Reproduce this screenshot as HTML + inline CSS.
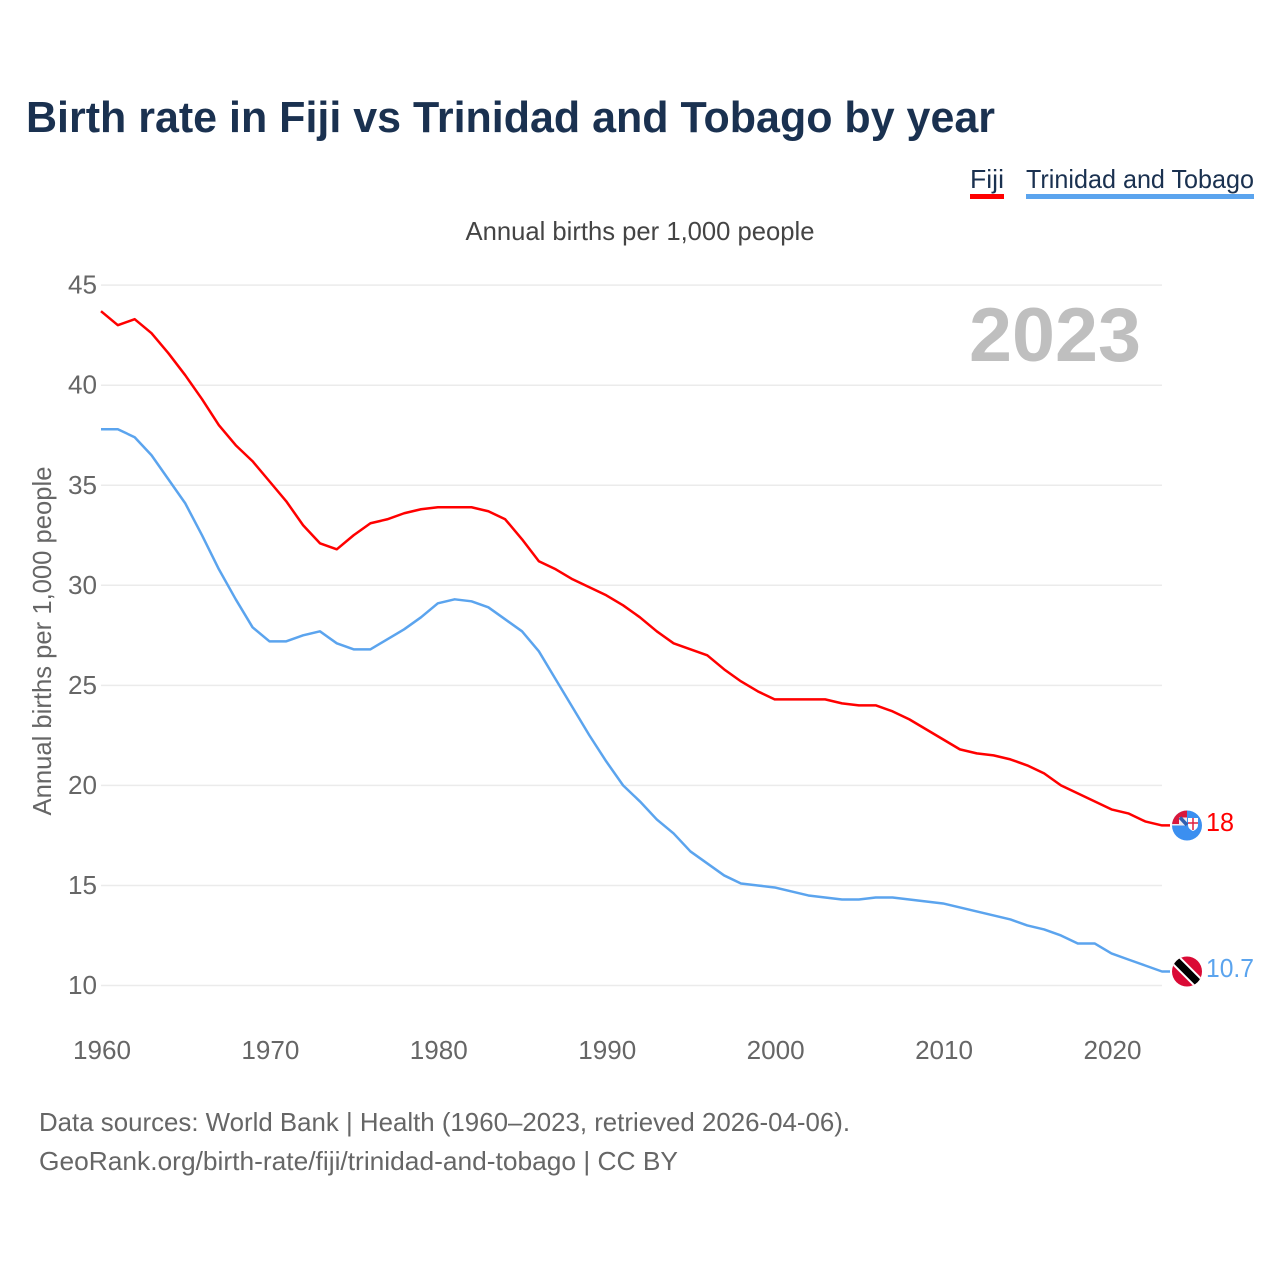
<!DOCTYPE html>
<html lang="en">
<head>
<meta charset="utf-8">
<title>Birth rate in Fiji vs Trinidad and Tobago by year</title>
<style>
html,body{margin:0;padding:0;background:#fff;width:1280px;height:1280px;overflow:hidden}
svg{display:block;font-family:"Liberation Sans",sans-serif}
</style>
</head>
<body>
<svg id="chart" xmlns="http://www.w3.org/2000/svg" width="1280" height="1280" viewBox="0 0 1280 1280">
  <defs>
    <clipPath id="fiji-clip"><circle cx="1187" cy="825.500" r="15"/></clipPath>
    <clipPath id="tt-clip"><circle cx="1187" cy="971.500" r="15"/></clipPath>
  </defs>
  <text x="26" y="132" font-size="44" font-weight="700" fill="#1a3150" textLength="969" lengthAdjust="spacingAndGlyphs">Birth rate in Fiji vs Trinidad and Tobago by year</text>

  <g>
    <text x="970" y="188" font-size="26" fill="#1a3150" textLength="34" lengthAdjust="spacingAndGlyphs">Fiji</text>
    <rect x="970" y="194" width="34" height="5" fill="#ff0000"/>
  </g>
  <g>
    <text x="1026" y="188" font-size="26" fill="#1a3150" textLength="228" lengthAdjust="spacingAndGlyphs">Trinidad and Tobago</text>
    <rect x="1026" y="194" width="228" height="5" fill="#5ba4ee"/>
  </g>

  <text x="640" y="240" font-size="26" fill="#444" text-anchor="middle" textLength="349" lengthAdjust="spacingAndGlyphs">Annual births per 1,000 people</text>
  <text transform="translate(51,641) rotate(-90)" font-size="26" fill="#666" text-anchor="middle" textLength="349" lengthAdjust="spacingAndGlyphs">Annual births per 1,000 people</text>
  <text x="1141" y="361" font-size="76" font-weight="700" fill="#bfbfbf" text-anchor="end" textLength="172" lengthAdjust="spacingAndGlyphs">2023</text>

  <g id="grid"></g>
  <g id="y-ticks"></g>
  <g id="x-ticks"></g>
  <g id="lines"></g>

  <g clip-path="url(#fiji-clip)">
    <rect x="1172" y="810" width="30" height="32" fill="#3b8ff0"/>
    <rect x="1172" y="810" width="15" height="15.500" fill="#eceaf0"/>
    <path d="M1172 824V813Q1172 810 1176 810H1187V817.500H1179V824Z" fill="#d8173c"/>
    <path d="M1180 817.500L1187 825" stroke="#2f5fb0" stroke-width="3.500"/>
    <path d="M1188 818H1198V825Q1198 829 1193 831Q1188 829 1188 825Z" fill="#fff"/>
    <path d="M1193 818V830M1188 823H1198" stroke="#e0203f" stroke-width="1.500"/>
  </g>
  <text x="1206" y="831" font-size="26" fill="#ff0000" textLength="28" lengthAdjust="spacingAndGlyphs">18</text>

  <g clip-path="url(#tt-clip)">
    <rect x="1172" y="956" width="30" height="31" fill="#da0a35"/>
    <path d="M1172 956.500L1202 986.500" stroke="#fff" stroke-width="11.500"/>
    <path d="M1172 956.500L1202 986.500" stroke="#000" stroke-width="7.500"/>
  </g>
  <text x="1206" y="977" font-size="26" fill="#5ba4ee" textLength="48" lengthAdjust="spacingAndGlyphs">10.7</text>

  <text x="39" y="1131" font-size="26" fill="#666" textLength="811" lengthAdjust="spacingAndGlyphs">Data sources: World Bank | Health (1960–2023, retrieved 2026-04-06).</text>
  <text x="39" y="1170" font-size="26" fill="#666" textLength="639" lengthAdjust="spacingAndGlyphs">GeoRank.org/birth-rate/fiji/trinidad-and-tobago | CC BY</text>
</svg>
<script>
var startYear = 1960;
var fijiValues = [
  43.7,43.0,43.3,42.6,41.6,40.5,39.3,38.0,37.0,36.2,
  35.2,34.2,33.0,32.1,31.8,32.5,33.1,33.3,33.6,33.8,
  33.9,33.9,33.9,33.7,33.3,32.3,31.2,30.8,30.3,29.9,
  29.5,29.0,28.4,27.7,27.1,26.8,26.5,25.8,25.2,24.7,
  24.3,24.3,24.3,24.3,24.1,24.0,24.0,23.7,23.3,22.8,
  22.3,21.8,21.6,21.5,21.3,21.0,20.6,20.0,19.6,19.2,
  18.8,18.6,18.2,18.0
];
var trinidadValues = [
  37.8,37.8,37.4,36.5,35.3,34.1,32.5,30.8,29.3,27.9,
  27.2,27.2,27.5,27.7,27.1,26.8,26.8,27.3,27.8,28.4,
  29.1,29.3,29.2,28.9,28.3,27.7,26.7,25.3,23.9,22.5,
  21.2,20.0,19.2,18.3,17.6,16.7,16.1,15.5,15.1,15.0,
  14.9,14.7,14.5,14.4,14.3,14.3,14.4,14.4,14.3,14.2,
  14.1,13.9,13.7,13.5,13.3,13.0,12.8,12.5,12.1,12.1,
  11.6,11.3,11.0,10.7
];
var yTickLabels = [10,15,20,25,30,35,40,45];
var xTickLabels = [1960,1970,1980,1990,2000,2010,2020];

var NS = 'http://www.w3.org/2000/svg';
var connectorEndX = 1170;
function xScale(year){ return 101 + (year - 1960) * (1162 - 101) / 63; }
function yScale(value){ return 985.5 - (value - 10) * 20.01; }
function make(tag, attrs, parent){
  var el = document.createElementNS(NS, tag);
  for (var k in attrs) el.setAttribute(k, attrs[k]);
  parent.appendChild(el);
  return el;
}
var grid = document.getElementById('grid');
var yTicks = document.getElementById('y-ticks');
var xTicks = document.getElementById('x-ticks');
var lines = document.getElementById('lines');

yTickLabels.forEach(function(v){
  var g = make('line', {x1:101, x2:1162, y1:yScale(v), y2:yScale(v), stroke:'#ebebeb', 'stroke-width':1.5}, grid);
  
  
  var t = make('text', {x:97, y:yScale(v)+8.500, 'font-size':26, fill:'#666', 'text-anchor':'end', textLength:29, lengthAdjust:'spacingAndGlyphs'}, yTicks);
  t.textContent = v;
  
  
});
xTickLabels.forEach(function(y){
  var t = make('text', {x:xScale(y)+1, y:1059, 'font-size':26, fill:'#666', 'text-anchor':'middle', textLength:58, lengthAdjust:'spacingAndGlyphs'}, xTicks);
  t.textContent = y;
  
  
});
function points(values){
  var pts = values.map(function(v,i){ return xScale(startYear+i).toFixed(2)+','+yScale(v).toFixed(2); });
  pts.push(connectorEndX+','+yScale(values[values.length-1]).toFixed(2));
  return pts.join(' ');
}
var fijiLine = make('polyline', {points:points(fijiValues), fill:'none', stroke:'#ff0000', 'stroke-width':2.500, 'stroke-linejoin':'round'}, lines);


var ttLine = make('polyline', {points:points(trinidadValues), fill:'none', stroke:'#5ba4ee', 'stroke-width':2.500, 'stroke-linejoin':'round'}, lines);


</script>
</body>
</html>
